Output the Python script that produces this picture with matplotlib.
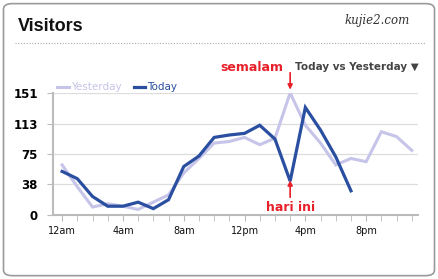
import matplotlib.pyplot as plt
from matplotlib.patches import FancyBboxPatch
from matplotlib.lines import Line2D

# data (hourly visitors)
hours_today = list(range(0, 20))
today = [54, 45, 23, 11, 11, 16, 8, 19, 60, 73, 96, 99, 101, 111, 94, 42, 133, 105, 72, 30]
hours_yest = list(range(0, 24))
yesterday = [62, 35, 10, 14, 11, 7, 16, 25, 52, 70, 89, 91, 96, 87, 95, 151, 111, 89, 62, 70, 66, 103, 97, 80]
y_ticks = [0, 38, 75, 113, 151]
x_ticks = [0, 4, 8, 12, 16, 20]
x_labels = ["12am", "4am", "8am", "12pm", "4pm", "8pm"]

fig = plt.figure(figsize=(4.38, 2.79), dpi=100)

# rounded frame
frame = FancyBboxPatch((0.008, 0.012), 0.984, 0.975, boxstyle="round,pad=0,rounding_size=0.02",
                       transform=fig.transFigure, facecolor="white", edgecolor="#9a9a9a", lw=1.2,
                       zorder=-10)
fig.add_artist(frame)

fig.text(0.04, 0.905, "Visitors", fontsize=13, fontweight="bold", family="Liberation Sans",
         va="center", ha="left", color="#111111")
fig.text(0.935, 0.925, "kujie2.com", fontsize=8.5, style="italic", family="DejaVu Serif",
         va="center", ha="right", color="#333333")
fig.add_artist(Line2D([0.035, 0.97], [0.845, 0.845], transform=fig.transFigure,
                      color="#aaaaaa", lw=0.8, ls=(0, (1, 1.5))))
fig.text(0.955, 0.76, "Today vs Yesterday \u25bc", fontsize=7.5, fontweight="bold",
         ha="right", va="center", color="#444444")

ax = fig.add_axes([0.121, 0.229, 0.833, 0.438])
ax.patch.set_alpha(0)
ax.plot(hours_yest, yesterday, color="#c6c4e8", lw=2.2, label="Yesterday", solid_joinstyle="miter")
ax.plot(hours_today, today, color="#2a4fa0", lw=2.3, label="Today", solid_joinstyle="miter")

ax.set_xlim(-0.6, 23.4)
ax.set_ylim(0, 151)
ax.set_yticks(y_ticks)
ax.set_yticklabels([str(v) for v in y_ticks], fontsize=8.5, fontweight="bold", color="black")
ax.set_xticks(range(0, 24), minor=True)
ax.set_xticks(x_ticks)
ax.set_xticklabels(x_labels, fontsize=7, color="#111111")
ax.tick_params(axis="x", which="both", length=4, color="#bbbbbb", direction="out", pad=4)
ax.tick_params(axis="y", length=4, color="#bbbbbb", pad=7)
ax.grid(axis="y", color="#dddddd", lw=0.9)
ax.set_axisbelow(True)
for s in ["top", "right"]:
    ax.spines[s].set_visible(False)
for s in ["left", "bottom"]:
    ax.spines[s].set_color("#bbbbbb")
    ax.spines[s].set_linewidth(1.5)

leg = ax.legend(loc="lower left", bbox_to_anchor=(0.0, 0.97), ncol=2, frameon=False,
                fontsize=7.5, handlelength=1.1, handletextpad=0.2, columnspacing=1.2,
                borderaxespad=0)
for t, c in zip(leg.get_texts(), ["#c6c4e8", "#2a4fa0"]):
    t.set_color(c)

# annotations
red = "#e8202a"
ax.text(12.5, 183, "semalam", fontsize=9, fontweight="bold", color=red, ha="center", va="center",
        clip_on=False)
ax.annotate("", xy=(15, 155), xytext=(15, 176), annotation_clip=False,
            arrowprops=dict(arrowstyle="-|>", color=red, lw=1.2, mutation_scale=7,
                            shrinkA=0, shrinkB=0))
ax.text(15, 9, "hari ini", fontsize=9, fontweight="bold", color=red, ha="center", va="center")
ax.annotate("", xy=(15, 43), xytext=(15, 22),
            arrowprops=dict(arrowstyle="-|>", color=red, lw=1.2, mutation_scale=7,
                            shrinkA=0, shrinkB=0))

plt.savefig("out.png", dpi=100)
